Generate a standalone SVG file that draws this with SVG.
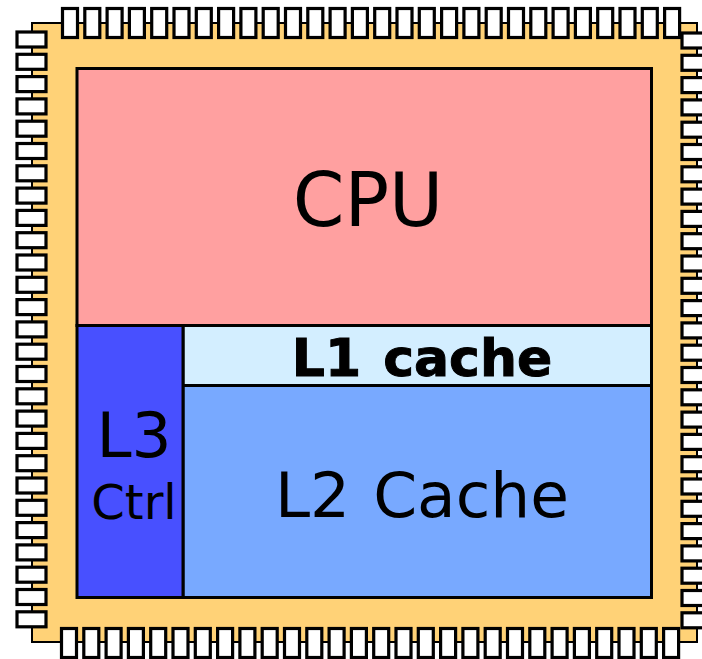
<svg xmlns="http://www.w3.org/2000/svg" width="702" height="659" viewBox="0 0 702 659">
<style>
.pin{fill:#fff;stroke:#000;stroke-width:3.2}
.blk{stroke:#000;stroke-width:3}
text{font-family:"DejaVu Sans",Verdana,sans-serif;fill:#000;text-anchor:middle}
</style>
<defs>
<rect id="pv" class="pin" width="15" height="29"/>
<rect id="ph" class="pin" width="29" height="15"/>
</defs>
<g id="chip"><rect x="32" y="23" width="665" height="619" fill="#ffd277" stroke="#000" stroke-width="2"/></g>
<g id="pins-top">
<use href="#pv" x="62.5" y="8.5"/><use href="#pv" x="84.8" y="8.5"/><use href="#pv" x="107.1" y="8.5"/><use href="#pv" x="129.4" y="8.5"/><use href="#pv" x="151.7" y="8.5"/><use href="#pv" x="174" y="8.5"/><use href="#pv" x="196.3" y="8.5"/><use href="#pv" x="218.6" y="8.5"/><use href="#pv" x="240.9" y="8.5"/><use href="#pv" x="263.2" y="8.5"/><use href="#pv" x="285.5" y="8.5"/><use href="#pv" x="307.8" y="8.5"/><use href="#pv" x="330.1" y="8.5"/><use href="#pv" x="352.4" y="8.5"/><use href="#pv" x="374.7" y="8.5"/><use href="#pv" x="397" y="8.5"/><use href="#pv" x="419.3" y="8.5"/><use href="#pv" x="441.6" y="8.5"/><use href="#pv" x="463.9" y="8.5"/><use href="#pv" x="486.2" y="8.5"/><use href="#pv" x="508.5" y="8.5"/><use href="#pv" x="530.8" y="8.5"/><use href="#pv" x="553.1" y="8.5"/><use href="#pv" x="575.4" y="8.5"/><use href="#pv" x="597.7" y="8.5"/><use href="#pv" x="620" y="8.5"/><use href="#pv" x="642.3" y="8.5"/><use href="#pv" x="664.6" y="8.5"/>
</g>
<g id="pins-bottom">
<use href="#pv" x="61.5" y="628.5"/><use href="#pv" x="83.8" y="628.5"/><use href="#pv" x="106.1" y="628.5"/><use href="#pv" x="128.4" y="628.5"/><use href="#pv" x="150.7" y="628.5"/><use href="#pv" x="173" y="628.5"/><use href="#pv" x="195.3" y="628.5"/><use href="#pv" x="217.6" y="628.5"/><use href="#pv" x="239.9" y="628.5"/><use href="#pv" x="262.2" y="628.5"/><use href="#pv" x="284.5" y="628.5"/><use href="#pv" x="306.8" y="628.5"/><use href="#pv" x="329.1" y="628.5"/><use href="#pv" x="351.4" y="628.5"/><use href="#pv" x="373.7" y="628.5"/><use href="#pv" x="396" y="628.5"/><use href="#pv" x="418.3" y="628.5"/><use href="#pv" x="440.6" y="628.5"/><use href="#pv" x="462.9" y="628.5"/><use href="#pv" x="485.2" y="628.5"/><use href="#pv" x="507.5" y="628.5"/><use href="#pv" x="529.8" y="628.5"/><use href="#pv" x="552.1" y="628.5"/><use href="#pv" x="574.4" y="628.5"/><use href="#pv" x="596.7" y="628.5"/><use href="#pv" x="619" y="628.5"/><use href="#pv" x="641.3" y="628.5"/><use href="#pv" x="663.6" y="628.5"/>
</g>
<g id="pins-left">
<use href="#ph" x="17" y="32"/><use href="#ph" x="17" y="54.3"/><use href="#ph" x="17" y="76.6"/><use href="#ph" x="17" y="98.9"/><use href="#ph" x="17" y="121.2"/><use href="#ph" x="17" y="143.5"/><use href="#ph" x="17" y="165.8"/><use href="#ph" x="17" y="188.1"/><use href="#ph" x="17" y="210.4"/><use href="#ph" x="17" y="232.7"/><use href="#ph" x="17" y="255"/><use href="#ph" x="17" y="277.3"/><use href="#ph" x="17" y="299.6"/><use href="#ph" x="17" y="321.9"/><use href="#ph" x="17" y="344.2"/><use href="#ph" x="17" y="366.5"/><use href="#ph" x="17" y="388.8"/><use href="#ph" x="17" y="411.1"/><use href="#ph" x="17" y="433.4"/><use href="#ph" x="17" y="455.7"/><use href="#ph" x="17" y="478"/><use href="#ph" x="17" y="500.3"/><use href="#ph" x="17" y="522.6"/><use href="#ph" x="17" y="544.9"/><use href="#ph" x="17" y="567.2"/><use href="#ph" x="17" y="589.5"/><use href="#ph" x="17" y="611.8"/>
</g>
<g id="pins-right">
<use href="#ph" x="682" y="33"/><use href="#ph" x="682" y="55.3"/><use href="#ph" x="682" y="77.6"/><use href="#ph" x="682" y="99.9"/><use href="#ph" x="682" y="122.2"/><use href="#ph" x="682" y="144.5"/><use href="#ph" x="682" y="166.8"/><use href="#ph" x="682" y="189.1"/><use href="#ph" x="682" y="211.4"/><use href="#ph" x="682" y="233.7"/><use href="#ph" x="682" y="256"/><use href="#ph" x="682" y="278.3"/><use href="#ph" x="682" y="300.6"/><use href="#ph" x="682" y="322.9"/><use href="#ph" x="682" y="345.2"/><use href="#ph" x="682" y="367.5"/><use href="#ph" x="682" y="389.8"/><use href="#ph" x="682" y="412.1"/><use href="#ph" x="682" y="434.4"/><use href="#ph" x="682" y="456.7"/><use href="#ph" x="682" y="479"/><use href="#ph" x="682" y="501.3"/><use href="#ph" x="682" y="523.6"/><use href="#ph" x="682" y="545.9"/><use href="#ph" x="682" y="568.2"/><use href="#ph" x="682" y="590.5"/><use href="#ph" x="682" y="612.8"/>
</g>
<g id="cpu"><rect class="blk" x="77" y="68.5" width="574.5" height="257" fill="#ffa0a0"/><text x="368" y="226" font-size="74">CPU</text></g>
<g id="l1"><rect class="blk" x="183" y="325.5" width="468.5" height="60" fill="#d3eeff"/><text x="422" y="376" font-size="52" font-weight="bold" word-spacing="4" stroke="#000" stroke-width="1">L1 cache</text></g>
<g id="l2"><rect class="blk" x="183" y="385.5" width="468.5" height="212" fill="#78a9ff"/><text x="422" y="517" font-size="63" word-spacing="3">L2 Cache</text></g>
<g id="l3"><rect class="blk" x="77" y="325.5" width="106" height="272" fill="#4850ff"/><text x="134" y="457" font-size="63">L3</text><text x="134" y="519" font-size="48">Ctrl</text></g>
</svg>
